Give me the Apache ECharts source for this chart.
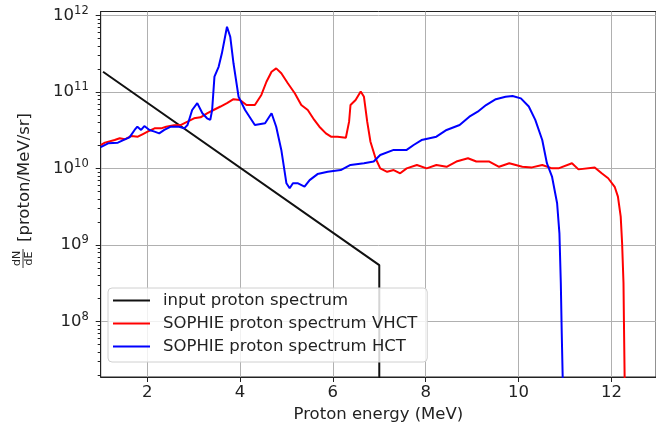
<!DOCTYPE html>
<html><head><meta charset="utf-8">
<script src="https://cdn.jsdelivr.net/npm/echarts@6/dist/echarts.min.js"></script>
<style>html,body{margin:0;padding:0;background:#fff}#c{width:656px;height:430px}</style>
</head><body><div id="c"></div>
<script>
// ---- data (energy in MeV, flux in proton/MeV/sr) ----
const xTicks = [2, 4, 6, 8, 10, 12];
const yTickExponents = [8, 9, 10, 11, 12];

const energyInput = [1.05, 7.0, 7.0];
const fluxInput = [1.85e11, 5.5e8, 1e7];

const energyVHCT = [1.00,1.09,1.30,1.41,1.52,1.66,1.80,1.91,2.01,2.16,2.30,2.41,2.58,2.72,2.87,3.01,3.15,3.29,3.43,3.58,3.72,3.86,4.00,4.14,4.32,4.46,4.57,4.68,4.78,4.89,5.03,5.18,5.32,5.46,5.60,5.71,5.85,5.96,6.10,6.28,6.35,6.38,6.49,6.60,6.67,6.74,6.81,6.92,7.02,7.17,7.31,7.45,7.59,7.81,8.02,8.23,8.45,8.66,8.91,9.09,9.37,9.58,9.80,10.08,10.29,10.51,10.72,10.86,11.15,11.29,11.64,11.79,11.93,12.07,12.14,12.20,12.23,12.26,12.27,12.29];
const fluxVHCT = [2.04e10,2.19e10,2.37e10,2.50e10,2.42e10,2.68e10,2.62e10,2.84e10,3.05e10,3.37e10,3.37e10,3.54e10,3.69e10,3.72e10,4.12e10,4.56e10,4.70e10,5.30e10,5.85e10,6.5e10,7.2e10,8.1e10,7.9e10,6.8e10,6.8e10,9.2e10,1.37e11,1.85e11,2.05e11,1.77e11,1.31e11,9.7e10,6.8e10,5.85e10,4.34e10,3.54e10,2.90e10,2.62e10,2.62e10,2.54e10,4.12e10,6.8e10,7.9e10,1.02e11,8.7e10,4.12e10,2.25e10,1.37e10,1.01e10,9.1e9,9.6e9,8.7e9,1.01e10,1.12e10,1.01e10,1.12e10,1.06e10,1.24e10,1.37e10,1.24e10,1.24e10,1.06e10,1.18e10,1.06e10,1.04e10,1.12e10,1.01e10,1.01e10,1.18e10,9.8e9,1.04e10,8.7e9,7.5e9,5.8e9,4.31e9,2.36e9,1.06e9,3.18e8,9.5e7,1e7];

const energyHCT = [1.00,1.16,1.37,1.52,1.62,1.73,1.79,1.87,1.94,2.05,2.16,2.26,2.37,2.51,2.69,2.80,2.87,2.97,3.08,3.19,3.29,3.36,3.40,3.45,3.54,3.61,3.72,3.79,3.86,3.97,4.11,4.32,4.54,4.68,4.78,4.89,5.00,5.07,5.14,5.25,5.39,5.50,5.67,5.89,6.17,6.38,6.67,6.88,7.02,7.31,7.59,7.74,7.91,8.23,8.45,8.73,8.94,9.12,9.30,9.51,9.72,9.87,10.05,10.22,10.36,10.51,10.61,10.72,10.83,10.88,10.91,10.93,10.96];
const fluxHCT = [1.91e10,2.15e10,2.19e10,2.42e10,2.57e10,3.21e10,3.54e10,3.21e10,3.61e10,3.21e10,3.05e10,2.90e10,3.21e10,3.54e10,3.54e10,3.37e10,3.72e10,5.85e10,7.2e10,5.30e10,4.56e10,4.34e10,5.85e10,1.60e11,2.15e11,3.22e11,7.18e11,5.31e11,2.39e11,8.7e10,5.85e10,3.72e10,3.92e10,5.30e10,3.54e10,1.76e10,6.44e9,5.55e9,6.44e9,6.44e9,5.82e9,7.1e9,8.5e9,9.1e9,9.6e9,1.12e10,1.18e10,1.24e10,1.51e10,1.76e10,1.76e10,2.04e10,2.37e10,2.62e10,3.21e10,3.72e10,4.79e10,5.56e10,6.8e10,8.1e10,8.7e10,8.9e10,8.3e10,6.5e10,4.34e10,2.37e10,1.18e10,7.9e9,3.53e9,1.43e9,3.18e8,7.0e7,1e7];

const seriesNames = ['input proton spectrum', 'SOPHIE proton spectrum VHCT', 'SOPHIE proton spectrum HCT'];

// ---- build ----
const FONT = 'DejaVu Sans';
const FS = 16.5;
const TXT = '#222';
const X_MIN = 1.0, X_MAX = 12.96;
const Y_MIN = 7.277, Y_MAX = 12.055; // log10 space
const toPairs = (xs, ys) => xs.map((x, i) => [x, Math.log10(ys[i])]);
const minorTicks = [];
for (let n = 7; n <= 12; n++) for (let k = 2; k <= 9; k++) {
  const v = n + Math.log10(k);
  if (v > Y_MIN && v < Y_MAX) minorTicks.push(v);
}

const chart = echarts.init(document.getElementById('c'), null, {renderer: 'canvas'});
const lineSeries = (name, xs, ys, color) => ({
  name, type: 'line', data: toPairs(xs, ys), symbol: 'none', smooth: false,
  lineStyle: {color, width: 2}, itemStyle: {color}, clip: true, z: 3
});

chart.setOption({
  animation: false,
  backgroundColor: '#fff',
  grid: {left: 100.7, right: -6, top: 11.5, bottom: 53, show: true, borderColor: '#222', borderWidth: 1, backgroundColor: 'transparent'},
  xAxis: [{
    type: 'value', min: X_MIN, max: X_MAX,
    axisLine: {show: true, onZero: false, lineStyle: {color: '#222', width: 1}},
    axisTick: {show: true, length: 5, customValues: xTicks, lineStyle: {color: '#222'}},
    axisLabel: {customValues: xTicks, fontSize: FS, color: TXT, fontFamily: FONT, margin: 7},
    splitLine: {show: true, lineStyle: {color: '#b0b0b0', width: 1}},
    name: 'Proton energy (MeV)', nameLocation: 'middle', nameGap: 28,
    nameTextStyle: {fontSize: FS, color: TXT, fontFamily: FONT}
  }],
  yAxis: [{
    type: 'value', min: Y_MIN, max: Y_MAX,
    axisLine: {show: true, onZero: false, lineStyle: {color: '#222', width: 1}},
    axisTick: {show: true, length: 5, customValues: yTickExponents, lineStyle: {color: '#222'}},
    axisLabel: {
      customValues: yTickExponents, margin: 12,
      formatter: v => '{b|10}{s|' + Math.round(v) + '}',
      rich: {
        b: {fontSize: FS, color: TXT, fontFamily: FONT, lineHeight: 22},
        s: {fontSize: 11.5, color: TXT, fontFamily: FONT, lineHeight: 13, verticalAlign: 'top'}
      }
    },
    splitLine: {show: true, lineStyle: {color: '#b0b0b0', width: 1}}
  }, {
    type: 'value', min: Y_MIN, max: Y_MAX, position: 'left', offset: 0,
    axisLine: {show: false},
    axisTick: {show: true, length: 3, customValues: minorTicks, lineStyle: {color: '#222'}},
    axisLabel: {show: false},
    splitLine: {show: false}
  }],
  legend: {
    orient: 'vertical', left: 108, top: 288,
    data: seriesNames,
    icon: 'rect', itemWidth: 37, itemHeight: 2.2, itemGap: 6,
    padding: [4, 10, 7, 5],
    backgroundColor: 'rgba(255,255,255,0.82)', borderColor: '#d0d0d0', borderWidth: 1, borderRadius: 4,
    formatter: n => '{t|' + n + '}',
    textStyle: {rich: {t: {fontSize: FS, color: TXT, fontFamily: FONT, padding: [0, 0, 0, 8], lineHeight: 19}}}
  },
  graphic: [{
    type: 'group', x: 24.5, y: 194, rotation: Math.PI / 2,
    children: [
      {type: 'text', x: -48, y: 0, style: {text: '[proton/MeV/sr]', fontSize: FS, fontFamily: FONT, fill: TXT, align: 'left', verticalAlign: 'middle'}},
      {type: 'text', x: -64.5, y: -7, style: {text: 'dN', fontSize: 11, fontFamily: FONT, fill: TXT, align: 'center', verticalAlign: 'middle'}},
      {type: 'line', shape: {x1: -74, y1: -1.5, x2: -55, y2: -1.5}, style: {stroke: TXT, lineWidth: 0.9}},
      {type: 'text', x: -64.5, y: 5, style: {text: 'dE', fontSize: 11, fontFamily: FONT, fill: TXT, align: 'center', verticalAlign: 'middle'}}
    ]
  }],
  series: [
    lineSeries(seriesNames[0], energyInput, fluxInput, '#111'),
    lineSeries(seriesNames[1], energyVHCT, fluxVHCT, '#ff0000'),
    lineSeries(seriesNames[2], energyHCT, fluxHCT, '#0000ff')
  ]
});
</script></body></html>
